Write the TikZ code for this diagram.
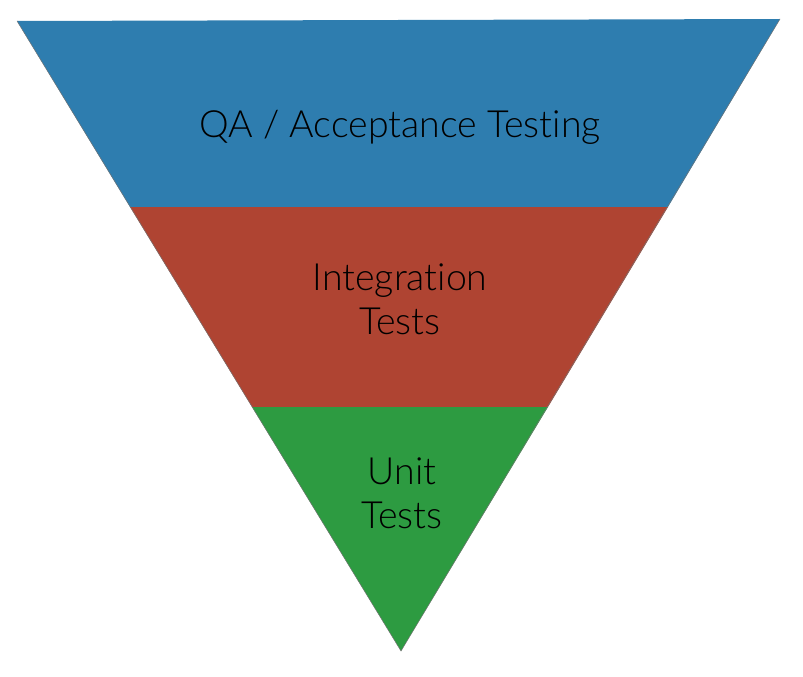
\documentclass[tikz,border=0pt]{standalone}
\usepackage{fontspec}
\setmainfont{Lato}[UprightFont=* Light, Ligatures=NoCommon]
\definecolor{bandblue}{RGB}{46,125,175}
\definecolor{bandred}{RGB}{175,68,50}
\definecolor{bandgreen}{RGB}{45,155,65}
\tikzset{
  label/.style={font=\fontsize{37.5}{44}\selectfont, text=black, align=center, inner sep=0pt}
}
\begin{document}
\begin{tikzpicture}[x=1pt,y=-1pt]
\useasboundingbox (0,0) rectangle (803,677);
\coordinate (TL) at (17,21);
\coordinate (TR) at (780,19);
\coordinate (AP) at (401,651);
\coordinate (L1) at (130,207);
\coordinate (R1) at (668,207);
\coordinate (L2) at (252,407);
\coordinate (R2) at (548,407);
\fill[bandblue] (TL) -- (TR) -- (R1) -- (L1) -- cycle;
\fill[bandred] (L1) -- (R1) -- (R2) -- (L2) -- cycle;
\fill[bandgreen] (L2) -- (R2) -- (AP) -- cycle;
\draw[black!55, line width=0.5pt, line join=round] (TL) -- (AP) -- (TR);
\node[label] (qa) at (400,127) {QA / Acceptance Testing};
\node[label] (it) at (400,299) {Integration\\Tests};
\node[label] (ut) at (402,493) {Unit\\Tests};
\end{tikzpicture}
\end{document}
